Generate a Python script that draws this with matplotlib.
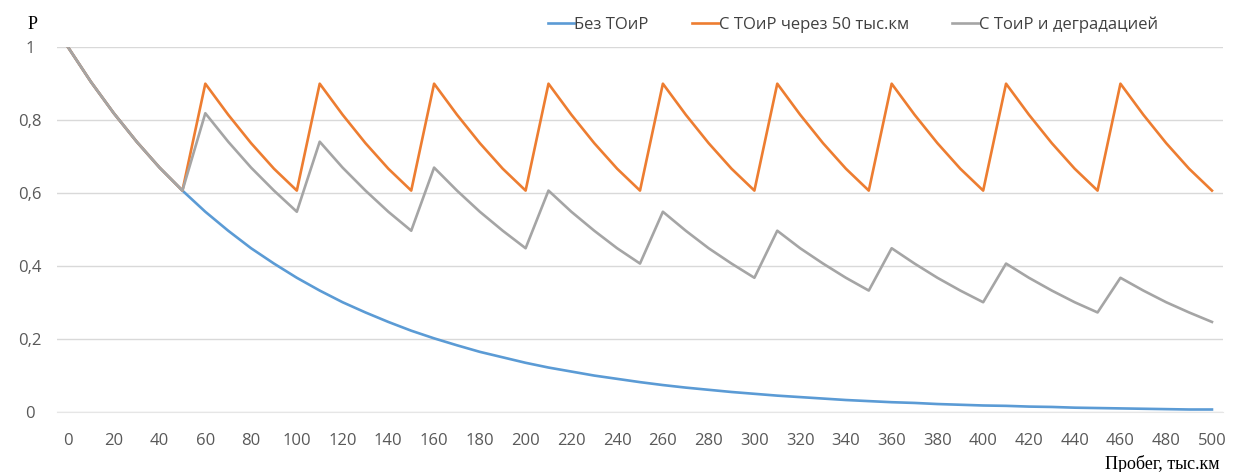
import matplotlib.pyplot as plt

# пробег, тыс.км
probeg = list(range(0, 510, 10))

# Без ТОиР
bez_toir = [1.0, 0.905, 0.819, 0.741, 0.670, 0.607, 0.549, 0.497, 0.449, 0.407,
            0.368, 0.333, 0.301, 0.273, 0.247, 0.223, 0.202, 0.183, 0.165, 0.150,
            0.135, 0.122, 0.111, 0.100, 0.091, 0.082, 0.074, 0.067, 0.061, 0.055,
            0.050, 0.045, 0.041, 0.037, 0.033, 0.030, 0.027, 0.025, 0.022, 0.020,
            0.018, 0.017, 0.015, 0.014, 0.012, 0.011, 0.010, 0.009, 0.008, 0.007,
            0.007]

# С ТОиР через 50 тыс.км
s_toir = [1.0, 0.905, 0.819, 0.741, 0.670, 0.607,
          0.900, 0.815, 0.737, 0.667, 0.607,
          0.900, 0.815, 0.737, 0.667, 0.607,
          0.900, 0.815, 0.737, 0.667, 0.607,
          0.900, 0.815, 0.737, 0.667, 0.607,
          0.900, 0.815, 0.737, 0.667, 0.607,
          0.900, 0.815, 0.737, 0.667, 0.607,
          0.900, 0.815, 0.737, 0.667, 0.607,
          0.900, 0.815, 0.737, 0.667, 0.607,
          0.900, 0.815, 0.737, 0.667, 0.607]

# С ТоиР и деградацией
s_degr = [1.0, 0.905, 0.819, 0.741, 0.670, 0.607,
          0.819, 0.741, 0.670, 0.607, 0.549,
          0.741, 0.670, 0.607, 0.549, 0.497,
          0.670, 0.607, 0.549, 0.497, 0.449,
          0.607, 0.549, 0.497, 0.449, 0.407,
          0.549, 0.497, 0.449, 0.407, 0.368,
          0.497, 0.449, 0.407, 0.368, 0.333,
          0.449, 0.407, 0.368, 0.333, 0.301,
          0.407, 0.368, 0.333, 0.301, 0.273,
          0.368, 0.333, 0.301, 0.273, 0.247]

labels = ['Без ТОиР', 'С ТОиР через 50 тыс.км', 'С ТоиР и деградацией']
colors = ['#5B9BD5', '#ED7D31', '#A5A5A5']

fig = plt.figure(figsize=(12.36, 4.72), dpi=100)
ax = fig.add_axes([0.0458, 0.127, 0.944, 0.773])

ax.plot(probeg, bez_toir, color=colors[0], lw=1.9, label=labels[0])
ax.plot(probeg, s_toir, color=colors[1], lw=1.9, label=labels[1])
ax.plot(probeg, s_degr, color=colors[2], lw=1.9, label=labels[2])

ax.set_xlim(-5, 505)
ax.set_ylim(0, 1)
ax.set_xticks(range(0, 510, 20))
ax.set_yticks([0, 0.2, 0.4, 0.6, 0.8, 1.0])
ax.set_yticklabels(['0', '0,2', '0,4', '0,6', '0,8', '1'])
ax.grid(axis='y', color='#D9D9D9', lw=1)
ax.set_axisbelow(True)
for s in ['top', 'right', 'left']:
    ax.spines[s].set_visible(False)
ax.spines['bottom'].set_color('#E6E6E6')
ax.tick_params(length=0, labelsize=12, labelcolor='#595959')
ax.tick_params(axis='x', pad=15)
ax.tick_params(axis='y', pad=19)
for t in ax.get_xticklabels() + ax.get_yticklabels():
    t.set_family('Open Sans')
for t in ax.get_yticklabels():
    t.set_horizontalalignment('center')

fig.text(0.022, 0.948, 'P', family='Liberation Serif', fontsize=13, va='center')
fig.text(0.987, 0.018, 'Пробег, тыс.км', family='Liberation Serif', fontsize=13,
         ha='right', va='center')

fig.legend(loc='center', bbox_to_anchor=(0.69, 0.947), ncol=3, frameon=False,
           handlelength=1.6, handletextpad=0.0, columnspacing=2.6,
           prop={'family': 'Open Sans', 'size': 12},
           labelcolor='#404040')

fig.savefig('out.png', dpi=100)
